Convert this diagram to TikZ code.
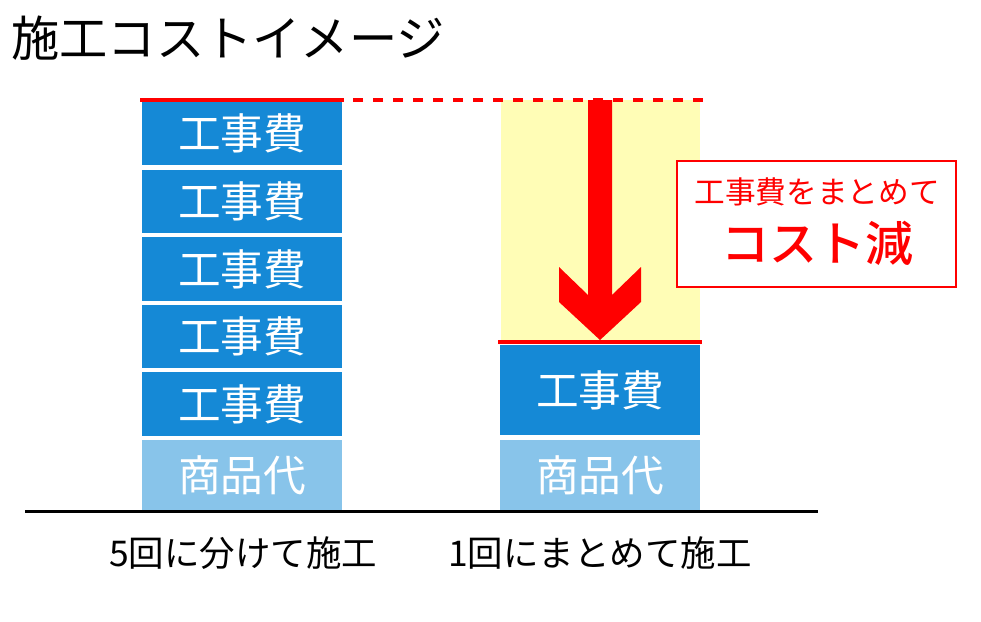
\documentclass[tikz,border=0pt]{standalone}
\usepackage{fontspec}
\usetikzlibrary{positioning}
\setmainfont{Noto Sans CJK JP}[BoldFont={Noto Sans CJK JP Bold}]
\newfontfamily\jpmed{Noto Sans CJK JP Medium}
\definecolor{kojiblue}{HTML}{1589D6}
\definecolor{shohinblue}{HTML}{88C4EA}
\definecolor{genka}{HTML}{FFFDB6}
\tikzset{
  block/.style={fill=#1, minimum width=150pt, inner sep=0pt, text=white,
    anchor=north west, font=\fontsize{32}{32}\selectfont},
  redline/.style={red, line width=3pt},
}
\begin{document}
\begin{tikzpicture}[x=0.75pt,y=-0.75pt]
    \useasboundingbox (0,0) rectangle (981,621);
    % Titre
    \node[anchor=west, inner sep=0pt] (title) at (11,38) {\fontsize{36.2}{36}\selectfont 施工コストイメージ};
    % 5回に分けて施工
    \foreach \i/\y in {1/101,2/169.5,3/237,4/304.5,5/372}
        \node[block=kojiblue, minimum height=47.6pt] (kL\i) at (142,\y) {工事費};
    \node[block=shohinblue, minimum height=53pt] (sL) at (142,440) {商品代};
    % 1回にまとめて施工
    \fill[genka] (501,100) rectangle (700,342);
    \node[block=kojiblue, minimum height=67.5pt] (kR) at (500,345) {工事費};
    \node[block=shohinblue, minimum height=53pt] (sR) at (500,440) {商品代};
    % Lignes rouges
    \coordinate (topR) at (703,100);
    \draw[redline] (140,100) -- (344,100);
    \draw[redline, dash pattern={on 7.5pt off 7.5pt}, dash phase=7.5pt] (343,100) -- (topR);
    \draw[redline] (498,342) -- (702,342);
    % Fleche
    \fill[red] (588,100) -- (588,295) -- (559,267) -- (559,302) -- (600,340)
        -- (641,302) -- (641,267) -- (612,295) -- (612,100) -- cycle;
    % Encadre
    \node[draw=red, line width=1.5pt, fill=white, minimum width=209pt,
        minimum height=94.5pt, inner sep=0pt] (callout) at (816.5,224) {};
    \node[red, inner sep=0pt] (calloutA) at (817,192) {\fontsize{23}{23}\selectfont 工事費をまとめて};
    \node[red, inner sep=0pt, below=11pt of calloutA] (calloutB) {\fontsize{36}{36}\selectfont\jpmed コスト減};
    % Sol
    \draw[line width=2.25pt] (25,511) -- (818,511);
    % Legendes
    \node (labL) at (243,553) {\fontsize{26.6}{26}\selectfont 5回に分けて施工};
    \node (labR) at (600,553) {\fontsize{26.6}{26}\selectfont 1回にまとめて施工};
\end{tikzpicture}
\end{document}
